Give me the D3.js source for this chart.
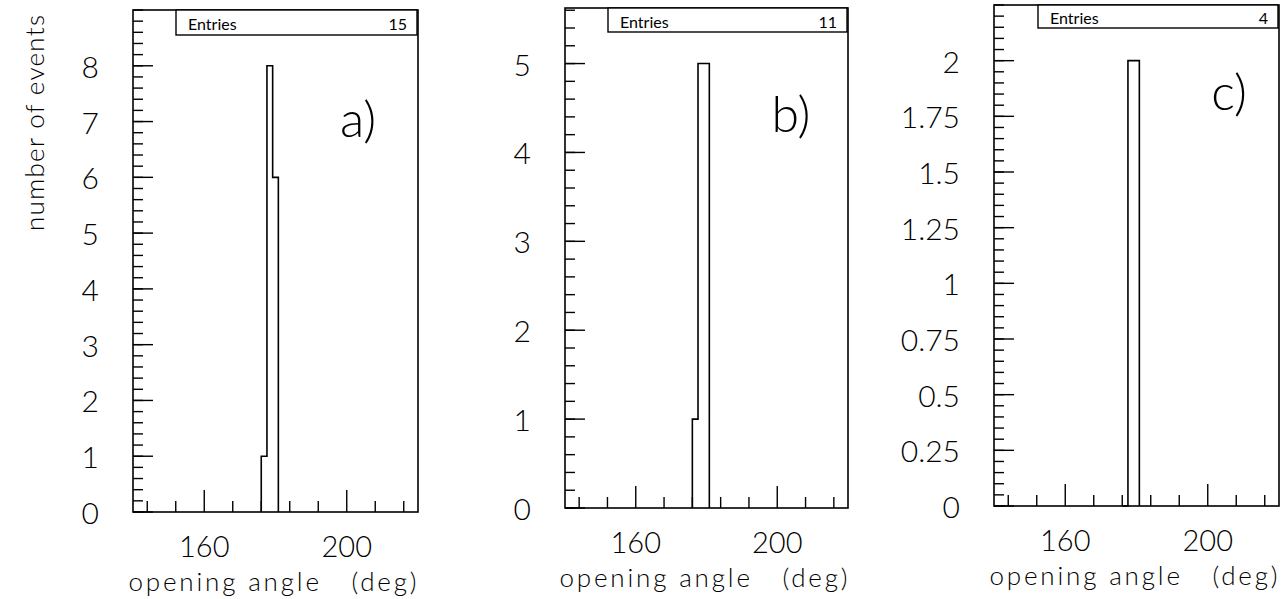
<!DOCTYPE html>
<html>
<head>
<meta charset="utf-8">
<script src="https://cdn.jsdelivr.net/npm/d3@7"></script>
<style>
  html, body { margin: 0; padding: 0; background: #fff; }
  svg { display: block; }
  text { font-family: "Lato", "DejaVu Sans", sans-serif; font-weight: 300; fill: #000; }
</style>
</head>
<body>
<div id="chart"></div>
<script>
// histogram contents, bins of 1.6 deg starting at 176 deg
const binLow = [176, 177.6, 179.2];
const binWidth = 1.6;
const countsA = [1, 8, 6];
const countsB = [1, 5, 5];
const countsC = [0, 2, 2];
const entries = [15, 11, 4];
const panelNames = ["a)", "b)", "c)"];

const xRange = [140, 220];
const xMinorTicks = [144, 152, 160, 168, 176, 184, 192, 200, 208, 216];
const xLabelTicks = [160, 200];

const yMaxA = 9, yMaxB = 5.625, yMaxC = 2.25;
const yMajorA = [0, 1, 2, 3, 4, 5, 6, 7, 8];
const yMajorB = [0, 1, 2, 3, 4, 5];
const yMajorC = [0, 0.25, 0.5, 0.75, 1, 1.25, 1.5, 1.75, 2];

const W = 1288, H = 599;

const svg = d3.select("#chart").append("svg")
  .attr("width", W).attr("height", H)
  .attr("viewBox", [0, 0, W, H]);

// frame placement of each panel on the page
const panels = [
  { counts: countsA, yMax: yMaxA, major: yMajorA, minorStep: 0.2,
    left: 133, right: 418, top: 10, bottom: 512, label: [358, 137], box: [176, 417, 35] },
  { counts: countsB, yMax: yMaxB, major: yMajorB, minorStep: 0.2,
    left: 565, right: 848, top: 8, bottom: 508, label: [791, 132], box: [608, 847, 32] },
  { counts: countsC, yMax: yMaxC, major: yMajorC, minorStep: 0.05,
    left: 994, right: 1279, top: 5, bottom: 506, label: [1229, 110], box: [1038, 1278, 28] }
];

const fmt = d => d3.format("~g")(d);

panels.forEach((p, i) => {
  const x = d3.scaleLinear().domain(xRange).range([p.left, p.right]);
  const y = d3.scaleLinear().domain([0, p.yMax]).range([p.bottom, p.top]);
  const g = svg.append("g");

  // frame
  g.append("rect")
    .attr("x", p.left).attr("y", p.top)
    .attr("width", p.right - p.left).attr("height", p.bottom - p.top)
    .attr("fill", "none").attr("stroke", "#000").attr("stroke-width", 1.6);

  // y ticks (drawn inward)
  const yMinor = d3.range(0, p.yMax + 1e-9, p.minorStep);
  g.selectAll(".ymin").data(yMinor).join("line")
    .attr("x1", p.left).attr("x2", p.left + 10)
    .attr("y1", d => y(d)).attr("y2", d => y(d))
    .attr("stroke", "#000").attr("stroke-width", 1.4);
  g.selectAll(".ymaj").data(p.major).join("line")
    .attr("x1", p.left).attr("x2", p.left + 20)
    .attr("y1", d => y(d)).attr("y2", d => y(d))
    .attr("stroke", "#000").attr("stroke-width", 1.4);
  g.selectAll(".ylab").data(p.major).join("text")
    .attr("x", p.left - 34).attr("y", d => y(d))
    .attr("text-anchor", "end").attr("dominant-baseline", "central")
    .attr("font-size", 30)
    .text(fmt);

  // x ticks
  g.selectAll(".xmin").data(xMinorTicks).join("line")
    .attr("x1", d => x(d)).attr("x2", d => x(d))
    .attr("y1", p.bottom).attr("y2", d => p.bottom - (xLabelTicks.includes(d) ? 22 : 11))
    .attr("stroke", "#000").attr("stroke-width", 1.4);
  g.selectAll(".xlab").data(xLabelTicks).join("text")
    .attr("x", d => x(d)).attr("y", p.bottom + 45)
    .attr("text-anchor", "middle")
    .attr("font-size", 29)
    .text(d => d);

  g.append("text")
    .attr("x", (p.left + p.right) / 2 - 3).attr("y", p.bottom + 79)
    .attr("text-anchor", "middle")
    .attr("font-size", 26)
    .attr("textLength", 288).attr("lengthAdjust", "spacing")
    .attr("xml:space", "preserve")
    .text("opening angle   (deg)");

  // statistics box
  const [bx0, bx1, by1] = p.box;
  g.append("rect")
    .attr("x", bx0).attr("y", p.top)
    .attr("width", bx1 - bx0).attr("height", by1 - p.top)
    .attr("fill", "#fff").attr("stroke", "#000").attr("stroke-width", 1.4);
  g.append("text")
    .attr("x", bx0 + 12).attr("y", (p.top + by1) / 2 + 1)
    .attr("dominant-baseline", "central")
    .attr("font-size", 16).style("font-weight", 400)
    .text("Entries");
  g.append("text")
    .attr("x", bx1 - 10).attr("y", (p.top + by1) / 2 + 1)
    .attr("text-anchor", "end").attr("dominant-baseline", "central")
    .attr("font-size", 16).style("font-weight", 400)
    .text(entries[i]);

  // histogram outline
  const pts = [[binLow[0], 0]];
  p.counts.forEach((c, k) => {
    pts.push([binLow[k], c]);
    pts.push([binLow[k] + binWidth, c]);
  });
  pts.push([binLow[binLow.length - 1] + binWidth, 0]);
  g.append("path")
    .attr("d", d3.line().x(d => x(d[0])).y(d => y(d[1]))(pts))
    .attr("fill", "none").attr("stroke", "#000").attr("stroke-width", 1.6);

  // panel letter
  g.append("text")
    .attr("x", p.label[0]).attr("y", p.label[1])
    .attr("text-anchor", "middle")
    .attr("font-size", 50)
    .text(panelNames[i]);
});

svg.append("text")
  .attr("transform", "translate(44,123) rotate(-90)")
  .attr("text-anchor", "middle")
  .attr("font-size", 26)
  .attr("textLength", 216).attr("lengthAdjust", "spacing")
  .text("number of events");
</script>
</body>
</html>
